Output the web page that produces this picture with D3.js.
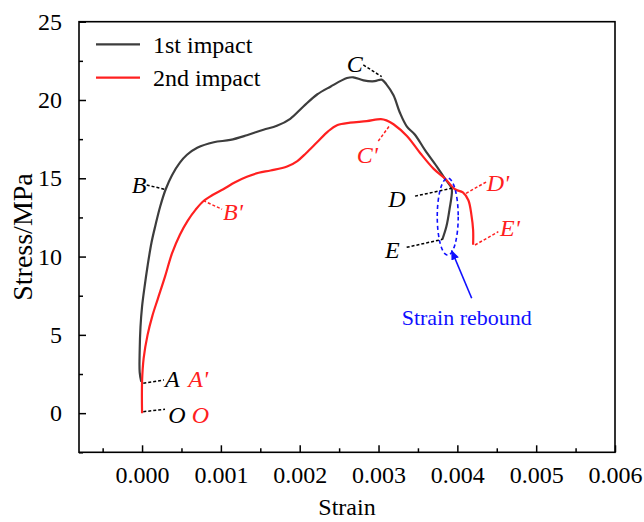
<!DOCTYPE html>
<html>
<head>
<meta charset="utf-8">
<script src="https://cdn.jsdelivr.net/npm/d3@7"></script>
<style>
html,body{margin:0;padding:0;background:#fff;}
svg text{font-family:"Liberation Serif","Times New Roman",serif;}
</style>
</head>
<body>
<svg id="chart" width="644" height="522"></svg>
<script>
// ---- data ----
const seriesNames = ["1st impact", "2nd impact"];
const seriesColors = ["#3d3d3d", "#ff2020"];
const firstStrain = [-0.00001,-0.00003,-0.00003,-0.00002,0.0,0.00003,0.00007,0.00012,0.00017,0.00023,0.0003,0.00038,0.00048,0.00057,0.0007,0.00091,0.00112,0.00133,0.00154,0.00171,0.00188,0.00205,0.00222,0.00239,0.0026,0.00268,0.00281,0.00295,0.00304,0.0031,0.00319,0.00327,0.00336,0.00346,0.00359,0.00374,0.00384,0.0039,0.00393,0.0039,0.00386,0.00381];
const firstStress = [2.0,2.6,4.0,5.5,6.8,8.0,9.4,10.9,12.0,13.2,14.3,15.2,16.0,16.5,16.95,17.3,17.45,17.75,18.1,18.35,18.8,19.6,20.35,20.85,21.4,21.45,21.25,21.2,21.3,21.0,20.3,19.2,18.3,17.8,16.8,15.75,15.0,14.6,14.3,13.0,11.9,11.1];
const secondStrain = [0,0,0.00002,0.00007,0.00013,0.0002,0.00029,0.00038,0.00048,0.00058,0.00068,0.00078,0.0009,0.00103,0.00118,0.00133,0.00148,0.00163,0.00184,0.00197,0.00208,0.00222,0.00236,0.00248,0.00264,0.00285,0.00303,0.0031,0.00319,0.00336,0.00353,0.0037,0.00384,0.00397,0.00407,0.00414,0.00418,0.0042,0.0042];
const secondStress = [0,2.0,3.5,5.0,6.2,7.3,8.7,10.2,11.4,12.3,13.0,13.55,13.95,14.3,14.75,15.1,15.35,15.5,15.75,16.1,16.6,17.3,18.0,18.4,18.55,18.65,18.78,18.7,18.45,17.7,16.6,15.6,15.0,14.3,14.1,13.6,12.6,11.7,10.75];
const xTicks = [0,0.001,0.002,0.003,0.004,0.005,0.006];
const xMinorTicks = [-0.0005,0.0005,0.0015,0.0025,0.0035,0.0045,0.0055];
const yTicks = [0,5,10,15,20,25];
const yMinorTicks = [-2.5,2.5,7.5,12.5,17.5,22.5];
// annotation labels: text, series index, label left x, baseline y, leader line x1,y1,x2,y2 (data units)
const annLabels = ["A","A'","O","O","B","B'","C","C'","D","E","D'","E'"];
const annSeries = [0,1,0,1,0,1,0,1,0,0,1,1];
const annX = [0.000291,0.000587,0.000333,0.00063,-0.000131,0.001027,0.002596,0.002723,0.003124,0.003082,0.004372,0.004541];
const annY = [1.67,1.67,-0.63,-0.63,14.06,12.34,21.79,15.98,13.16,9.9,14.19,11.31];
const leadX1 = [0.0000157,null,0.0000157,null,0.0000589,0.000777,0.002807,0.002997,0.003463,0.003357,0.00411,0.004224];
const leadY1 = [1.91,null,0.093,null,14.57,13.57,22.24,17.38,13.86,10.59,14.04,10.74];
const leadX2 = [0.000278,null,0.000291,null,0.000291,0.001015,0.00304,0.003146,0.003928,0.003814,0.004372,0.00452];
const leadY2 = [2.12,null,0.246,null,14.29,13.02,21.49,18.4,14.36,11.1,14.78,11.59];
const reboundText = "Strain rebound";
const reboundEllipse = [0.003878, 12.55, 0.000133, 2.46]; // cx, cy, rx, ry
const reboundArrow = [0.004182, 7.34, 0.003928, 10.38];
const reboundLabel = [0.004119, 5.63];

// ---- layout ----
const svg = d3.select("#chart");
const L = 79, R = 615, T = 21.7, B = 452.3;
const x = d3.scaleLinear().domain([-0.0008, 0.006]).range([L, R]);
const y = d3.scaleLinear().domain([-2.5, 25]).range([B, T]);
const font = '"Liberation Serif","Times New Roman",serif';

// curves
const line = d3.line().x(d => x(d[0])).y(d => y(d[1])).curve(d3.curveCatmullRom.alpha(0.5));
const series = [
  d3.zip(firstStrain, firstStress),
  d3.zip(secondStrain, secondStress)
];
series.forEach((s, i) => {
  svg.append("path").datum(s).attr("d", line)
    .attr("fill", "none").attr("stroke", seriesColors[i]).attr("stroke-width", 2.2)
    .attr("stroke-linejoin", "round");
});

// frame
svg.append("rect").attr("x", L).attr("y", T).attr("width", R - L).attr("height", B - T)
  .attr("fill", "none").attr("stroke", "#000").attr("stroke-width", 1.6);

// axes (ticks inward)
const xAxis = d3.axisBottom(x).tickValues(xTicks).tickFormat(d3.format(".3f")).tickSizeInner(-7).tickSizeOuter(0).tickPadding(14);
const gx = svg.append("g").attr("transform", `translate(0,${B})`).call(xAxis);
const gxm = svg.append("g").attr("transform", `translate(0,${B})`).call(d3.axisBottom(x).tickValues(xMinorTicks).tickFormat("").tickSizeInner(-4).tickSizeOuter(0));
const yAxis = d3.axisLeft(y).tickValues(yTicks).tickFormat(d3.format("d")).tickSizeInner(-7).tickSizeOuter(0).tickPadding(17);
const gy = svg.append("g").attr("transform", `translate(${L},0)`).call(yAxis);
const gym = svg.append("g").attr("transform", `translate(${L},0)`).call(d3.axisLeft(y).tickValues(yMinorTicks).tickFormat("").tickSizeInner(-4).tickSizeOuter(0));
[gx, gxm, gy, gym].forEach(g => {
  g.select(".domain").remove();
  g.selectAll("line").attr("stroke", "#000").attr("stroke-width", 1.5);
  g.selectAll("text").attr("fill", "#000").style("font-family", font).style("font-size", "24px");
});
gx.selectAll("text").attr("dy", "0.71em");

// axis titles
svg.append("text").attr("x", (L + R) / 2).attr("y", 515).attr("text-anchor", "middle")
  .style("font-size", "24px").text("Strain");
svg.append("text").attr("transform", `translate(32,${(T + B) / 2}) rotate(-90)`).attr("text-anchor", "middle")
  .style("font-size", "28px").text("Stress/MPa");

// legend
const lg = svg.append("g");
seriesNames.forEach((n, i) => {
  const ly = 44.3 + i * 33.4;
  lg.append("line").attr("x1", 96).attr("x2", 140).attr("y1", ly).attr("y2", ly)
    .attr("stroke", seriesColors[i]).attr("stroke-width", 2.2);
  lg.append("text").attr("x", 153).attr("y", ly + 8.5).style("font-size", "24px").attr("fill", "#000").text(n);
});

// annotations
annLabels.forEach((t, i) => {
  const c = annSeries[i] === 0 ? "#000" : "#ff2020";
  if (leadX1[i] !== null) {
    svg.append("line").attr("x1", x(leadX1[i])).attr("y1", y(leadY1[i]))
      .attr("x2", x(leadX2[i])).attr("y2", y(leadY2[i]))
      .attr("stroke", c).attr("stroke-width", 1.5).attr("stroke-dasharray", "3,2");
  }
  svg.append("text").attr("x", x(annX[i])).attr("y", y(annY[i]))
    .style("font-size", "24px").style("font-style", "italic").attr("fill", c).text(t);
});

// strain rebound
const blue = "#1010ff";
svg.append("ellipse").attr("cx", x(reboundEllipse[0])).attr("cy", y(reboundEllipse[1]))
  .attr("rx", x(reboundEllipse[0] + reboundEllipse[2]) - x(reboundEllipse[0]))
  .attr("ry", y(reboundEllipse[1]) - y(reboundEllipse[1] + reboundEllipse[3]))
  .attr("fill", "none").attr("stroke", blue).attr("stroke-width", 1.6).attr("stroke-dasharray", "4,3");
svg.append("defs").append("marker").attr("id", "arr").attr("viewBox", "0 0 10 10")
  .attr("refX", 9).attr("refY", 5).attr("markerWidth", 10).attr("markerHeight", 10)
  .attr("markerUnits", "userSpaceOnUse").attr("orient", "auto")
  .append("path").attr("d", "M0,1 L10,5 L0,9 Z").attr("fill", blue);
svg.append("line").attr("x1", x(reboundArrow[0])).attr("y1", y(reboundArrow[1]))
  .attr("x2", x(reboundArrow[2])).attr("y2", y(reboundArrow[3]))
  .attr("stroke", blue).attr("stroke-width", 1.6).attr("marker-end", "url(#arr)");
svg.append("text").attr("x", x(reboundLabel[0])).attr("y", y(reboundLabel[1])).attr("text-anchor", "middle")
  .style("font-size", "22px").attr("fill", blue).text(reboundText);
</script>
</body>
</html>
